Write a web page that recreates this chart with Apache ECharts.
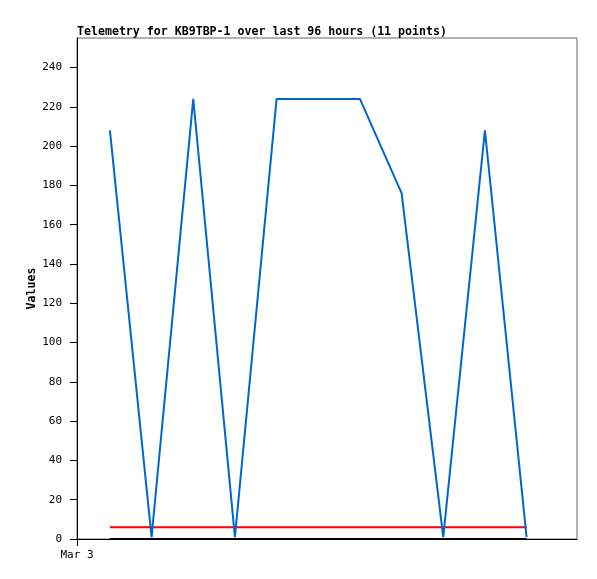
<!DOCTYPE html>
<html><head><meta charset="utf-8">
<script src="https://cdn.jsdelivr.net/npm/echarts@6/dist/echarts.min.js"></script>
<style>html,body{margin:0;padding:0;background:#fff}#c{width:597px;height:579px}</style>
</head><body><div id="c"></div>
<script>
const titleText = 'Telemetry for KB9TBP-1 over last 96 hours (11 points)';
const xIndex = [0,1,2,3,4,5,6,7,8,9,10];
const valuesBlue = [208,1,224,1,224,224,224,176,1,208,1];
const valuesRed = [6,6,6,6,6,6,6,6,6,6,6];
const valuesBlack = [0,0,0,0,0,0,0,0,0,0,0];
const xMin = -0.79, xMax = 11.21;
const xTickLabel = 'Mar 3';
const yTicks = [0,20,40,60,80,100,120,140,160,180,200,220,240];

const font = '"DejaVu Sans Mono", "Liberation Mono", monospace';
const pair = arr => xIndex.map((x,i)=>[x,arr[i]]);
const chart = echarts.init(document.getElementById('c'));
chart.setOption({
  animation:false,
  title:{text:titleText,left:77,top:26,padding:0,textStyle:{fontFamily:font,fontSize:11.6,fontWeight:'bold',color:'#000'}},
  grid:{left:77,top:38,right:20,bottom:40,show:true,borderColor:'#666',borderWidth:1,containLabel:false},
  xAxis:{type:'value',min:xMin,max:xMax,
    axisLine:{show:true,onZero:false,lineStyle:{color:'#000',width:1}},
    axisTick:{show:true,customValues:[xMin],length:7,lineStyle:{color:'#000'}},
    axisLabel:{show:true,customValues:[xMin],formatter:()=>xTickLabel,fontFamily:font,fontSize:11,color:'#000',margin:11},
    splitLine:{show:false}},
  yAxis:{type:'value',min:0,max:255,name:'Values',nameLocation:'middle',nameGap:39,nameMoveOverlap:false,
    nameTextStyle:{fontFamily:font,fontSize:11.6,fontWeight:'bold',color:'#000'},
    axisLine:{show:true,onZero:false,lineStyle:{color:'#000',width:1}},
    axisTick:{show:true,customValues:yTicks,length:7,lineStyle:{color:'#000'}},
    axisLabel:{customValues:yTicks,fontFamily:font,fontSize:11,color:'#000',margin:15},
    splitLine:{show:false}},
  series:[
    {type:'line',data:pair(valuesBlack),symbol:'none',lineStyle:{color:'#000',width:2},z:2},
    {type:'line',data:pair(valuesRed),symbol:'none',lineStyle:{color:'#ff0000',width:2},z:3},
    {type:'line',data:pair(valuesBlue),symbol:'none',lineStyle:{color:'#0066cc',width:2},z:4}
  ]
});
</script></body></html>
